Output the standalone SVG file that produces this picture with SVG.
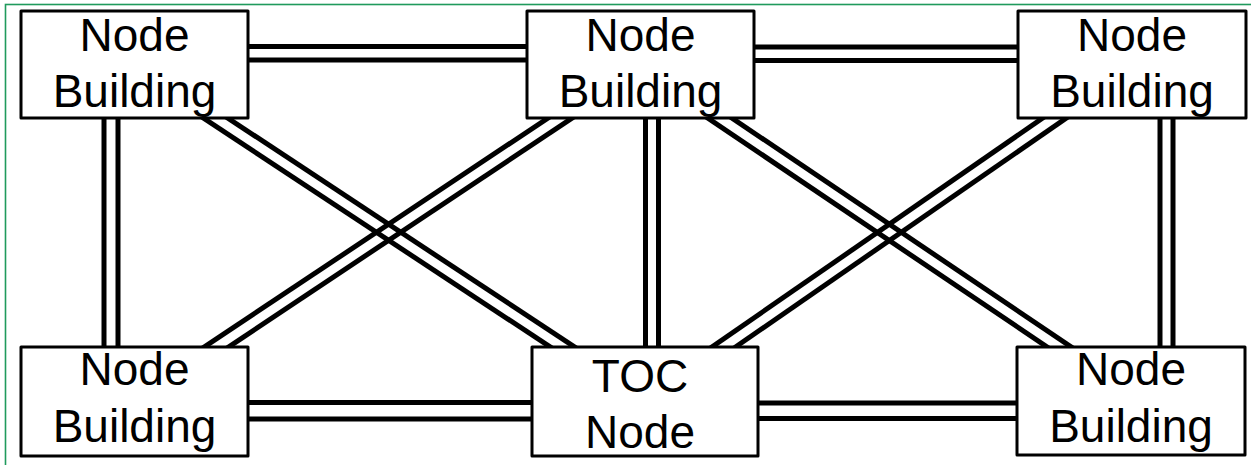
<svg xmlns="http://www.w3.org/2000/svg" width="1251" height="465" viewBox="0 0 1251 465">
  <style>
    .frame { fill: none; stroke: #1f9a5c; stroke-width: 1.6; }
    .wire { stroke: #000; stroke-width: 5; fill: none; }
    .box { fill: #fff; stroke: #000; stroke-width: 3; stroke-linejoin: round; }
    .lbl { font-family: "Liberation Sans", Arial, sans-serif; font-size: 46px; fill: #000; text-anchor: middle; }
  </style>

  <rect width="1251" height="465" fill="#fff"/>
  <!-- frame runs past the right and bottom edges -->
  <rect class="frame" x="5.5" y="4.5" width="1400" height="600"/>

  <!-- double-line links, drawn under the boxes -->
  <g id="connectors">
    <!-- top row -->
    <line class="wire" x1="130" y1="46.5" x2="640" y2="46.5"/>
    <line class="wire" x1="130" y1="60" x2="640" y2="60"/>
    <line class="wire" x1="640" y1="47" x2="1132" y2="47"/>
    <line class="wire" x1="640" y1="60.5" x2="1132" y2="60.5"/>
    <!-- bottom row -->
    <line class="wire" x1="130" y1="402.5" x2="645" y2="402.5"/>
    <line class="wire" x1="130" y1="419" x2="645" y2="419"/>
    <line class="wire" x1="645" y1="403" x2="1131" y2="403"/>
    <line class="wire" x1="645" y1="418.5" x2="1131" y2="418.5"/>
    <!-- verticals -->
    <line class="wire" x1="104" y1="64" x2="104" y2="401"/>
    <line class="wire" x1="118" y1="64" x2="118" y2="401"/>
    <line class="wire" x1="645.5" y1="64" x2="645.5" y2="401"/>
    <line class="wire" x1="658.5" y1="64" x2="658.5" y2="401"/>
    <line class="wire" x1="1160" y1="64" x2="1160" y2="401"/>
    <line class="wire" x1="1173" y1="64" x2="1173" y2="401"/>
    <!-- diagonals -->
    <line class="wire" x1="130.8" y1="70.1" x2="641.3" y2="407.1"/>
    <line class="wire" x1="138.2" y1="58.9" x2="648.7" y2="395.9"/>
    <line class="wire" x1="644.2" y1="70.1" x2="138.2" y2="407.1"/>
    <line class="wire" x1="636.8" y1="58.9" x2="130.8" y2="395.9"/>
    <line class="wire" x1="636.7" y1="70.1" x2="1136.2" y2="407.1"/>
    <line class="wire" x1="644.3" y1="58.9" x2="1143.8" y2="395.9"/>
    <line class="wire" x1="1135.8" y1="70.0" x2="648.8" y2="407.0"/>
    <line class="wire" x1="1128.2" y1="58.9" x2="641.2" y2="395.9"/>
  </g>

  <g id="node-top-left">
    <rect class="box" x="21" y="11" width="227" height="107"/>
    <text class="lbl" x="134.5" y="51">Node</text>
    <text class="lbl" x="134.5" y="107">Building</text>
  </g>
  <g id="node-top-middle">
    <rect class="box" x="527" y="11" width="227" height="107"/>
    <text class="lbl" x="640.5" y="51">Node</text>
    <text class="lbl" x="640.5" y="107">Building</text>
  </g>
  <g id="node-top-right">
    <rect class="box" x="1018" y="11" width="228" height="107"/>
    <text class="lbl" x="1132" y="51">Node</text>
    <text class="lbl" x="1132" y="107">Building</text>
  </g>
  <g id="node-bottom-left">
    <rect class="box" x="21" y="347" width="227" height="109"/>
    <text class="lbl" x="134.5" y="385">Node</text>
    <text class="lbl" x="134.5" y="441.5">Building</text>
  </g>
  <g id="node-toc">
    <rect class="box" x="532" y="347" width="226" height="109"/>
    <text class="lbl" x="640" y="391.5">TOC</text>
    <text class="lbl" x="640" y="448">Node</text>
  </g>
  <g id="node-bottom-right">
    <rect class="box" x="1017" y="347" width="228" height="108"/>
    <text class="lbl" x="1131" y="385">Node</text>
    <text class="lbl" x="1131" y="441.5">Building</text>
  </g>
</svg>
